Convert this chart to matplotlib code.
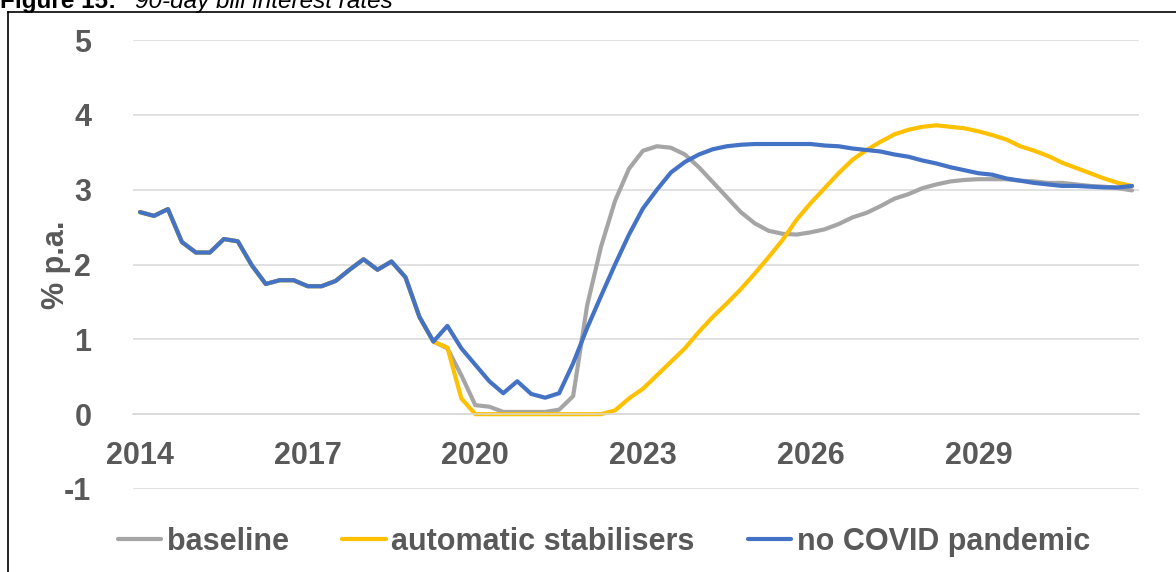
import matplotlib
matplotlib.use("Agg")
import matplotlib.pyplot as plt
from matplotlib.lines import Line2D

plt.rcParams['font.family'] = ['Liberation Sans', 'DejaVu Sans']
plt.rcParams['axes.unicode_minus'] = False

# quarterly, 2014Q1 .. 2031Q4
year_labels = ['2014', '2017', '2020', '2023', '2026', '2029']
label_every = 12

history = [2.70, 2.65, 2.74, 2.30, 2.16, 2.16, 2.34, 2.31, 1.99, 1.74, 1.79,
           1.79, 1.71, 1.71, 1.78, 1.93, 2.07, 1.93, 2.04, 1.83, 1.30, 0.97]

baseline = history + [
    0.88, 0.52, 0.12, 0.10, 0.03, 0.03, 0.03, 0.03, 0.06, 0.24, 1.45, 2.24,
    2.85, 3.28, 3.52, 3.58, 3.56, 3.47, 3.30, 3.10, 2.90, 2.70, 2.55, 2.45,
    2.41, 2.40, 2.43, 2.47, 2.54, 2.63, 2.69, 2.78, 2.88, 2.94, 3.02, 3.07,
    3.11, 3.13, 3.14, 3.14, 3.14, 3.12, 3.11, 3.09, 3.09, 3.07, 3.05, 3.04,
    3.02, 2.99]

auto_stab = history + [
    0.89, 0.21, 0.00, 0.00, 0.00, 0.00, 0.00, 0.00, 0.00, 0.00, 0.00, 0.00,
    0.05, 0.21, 0.34, 0.52, 0.70, 0.88, 1.10, 1.30, 1.48, 1.67, 1.88, 2.10,
    2.33, 2.60, 2.82, 3.02, 3.22, 3.40, 3.53, 3.64, 3.74, 3.80, 3.84, 3.86,
    3.84, 3.82, 3.78, 3.73, 3.67, 3.58, 3.52, 3.45, 3.36, 3.29, 3.22, 3.15,
    3.09, 3.05]

no_covid = history + [
    1.18, 0.88, 0.66, 0.44, 0.28, 0.44, 0.27, 0.22, 0.28, 0.68, 1.15, 1.58,
    2.00, 2.40, 2.75, 3.00, 3.23, 3.37, 3.47, 3.54, 3.58, 3.60, 3.61, 3.61,
    3.61, 3.61, 3.61, 3.59, 3.58, 3.55, 3.53, 3.51, 3.47, 3.44, 3.39, 3.35,
    3.30, 3.26, 3.22, 3.20, 3.15, 3.12, 3.09, 3.07, 3.05, 3.05, 3.04, 3.03,
    3.03, 3.05]

grey = '#A5A5A5'
gold = '#FFC000'
blue = '#4472C4'
text_col = '#595959'

fig = plt.figure(figsize=(11.76, 5.72), dpi=100)
ax = fig.add_axes([133 / 1176, 83 / 572, 1006 / 1176, 449 / 572])

x = list(range(len(baseline)))
ax.plot(x, baseline, color=grey, lw=3, label='baseline', solid_capstyle='round')
ax.plot(x, auto_stab, color=gold, lw=3, label='automatic stabilisers', solid_capstyle='round')
ax.plot(x, no_covid, color=blue, lw=3, label='no COVID pandemic', solid_capstyle='round')

ax.set_xlim(-0.5, len(x) - 0.5)
ax.set_ylim(-1, 5)
ax.set_yticks(range(-1, 6))
ax.set_xticks(range(0, len(year_labels) * label_every, label_every))
ax.set_xticklabels(year_labels)
ax.grid(axis='y', color='#D9D9D9', lw=1.1)
ax.set_axisbelow(True)

for s in ['top', 'right', 'left']:
    ax.spines[s].set_visible(False)
ax.spines['bottom'].set_position(('data', 0))
ax.spines['bottom'].set_color('#D9D9D9')
ax.spines['bottom'].set_linewidth(1.1)
ax.tick_params(axis='both', length=0, labelsize=22, labelcolor=text_col)
ax.tick_params(axis='x', pad=19)
ax.tick_params(axis='y', pad=30)
for t in ax.get_xticklabels() + ax.get_yticklabels():
    t.set_fontweight('bold')

ax.set_ylabel('% p.a.', fontsize=22, fontweight='bold', color=text_col)
ax.yaxis.set_label_coords(-62 / 1006, 0.5)

leg = fig.legend(loc='center', bbox_to_anchor=(604 / 1176, 1 - 542 / 572), ncol=3,
                 frameon=False, handlelength=1.42, handletextpad=0.18,
                 columnspacing=1.75, prop={'size': 22, 'weight': 'bold'})
for t in leg.get_texts():
    t.set_color(text_col)

# title line, clipped at the top edge
fig.text(0, 1 - 8 / 572, 'Figure 15:', fontsize=17.5, fontweight='bold',
         va='baseline', ha='left')
fig.text(135 / 1176, 1 - 8 / 572, '90-day bill interest rates', fontsize=17.5,
         style='italic', va='baseline', ha='left')

# frame around the chart
fig.add_artist(Line2D([8 / 1176, 8 / 1176], [0, 1 - 12 / 572], color='black', lw=1.2))
fig.add_artist(Line2D([8 / 1176, 1], [1 - 12 / 572, 1 - 12 / 572], color='black', lw=1.2))

fig.savefig('out.png', dpi=100)
